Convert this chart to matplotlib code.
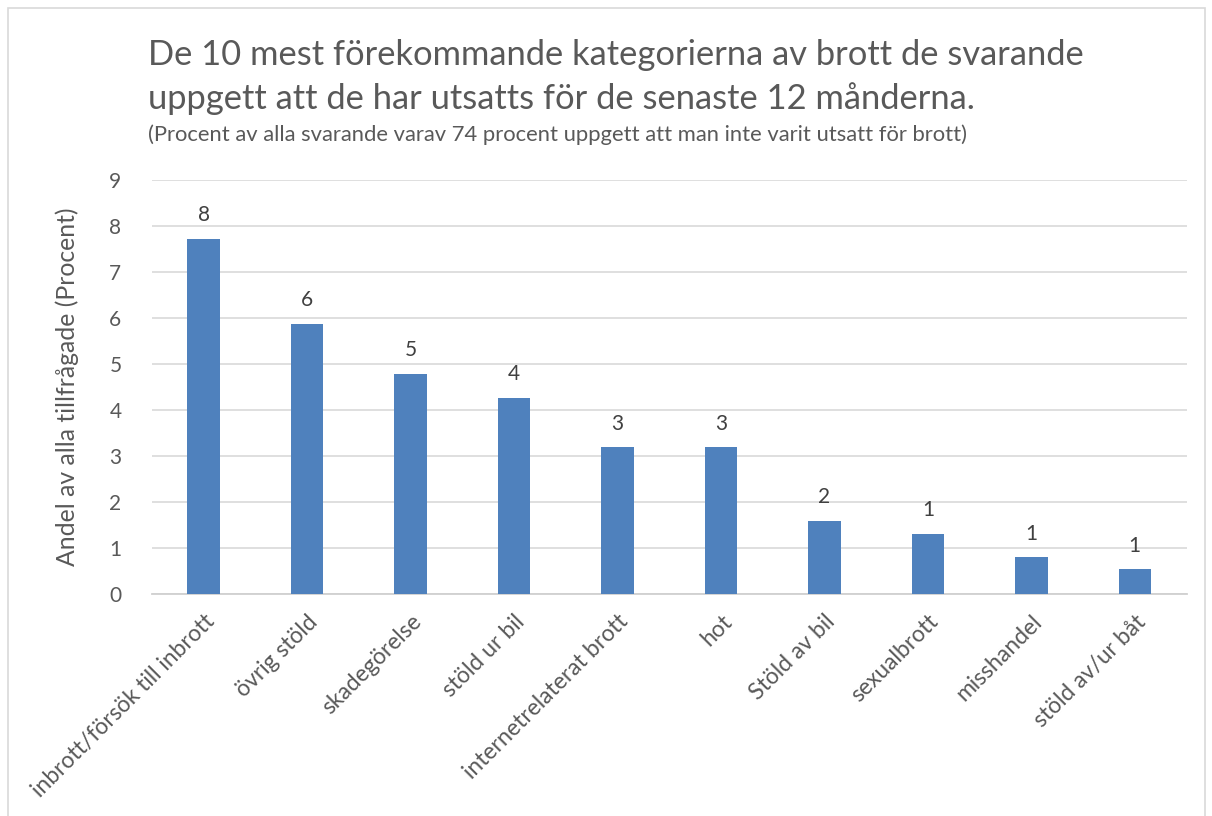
import matplotlib
matplotlib.use('Agg')
import matplotlib.pyplot as plt
from matplotlib.patches import Rectangle

plt.rcParams['font.family'] = ['Lato', 'DejaVu Sans']

categories = ['inbrott/försök till inbrott', 'övrig stöld', 'skadegörelse', 'stöld ur bil',
              'internetrelaterat brott', 'hot', 'Stöld av bil', 'sexualbrott', 'misshandel',
              'stöld av/ur båt']
values = [7.72, 5.87, 4.79, 4.26, 3.19, 3.19, 1.60, 1.32, 0.80, 0.54]
bar_labels = ['8', '6', '5', '4', '3', '3', '2', '1', '1', '1']
yticks = list(range(0, 10))

title = 'De 10 mest förekommande kategorierna av brott de svarande\nuppgett att de har utsatts för de senaste 12 månderna.'
subtitle = '(Procent av alla svarande varav 74 procent uppgett att man inte varit utsatt för brott)'
ylabel = 'Andel av alla tillfrågade (Procent)'

text_grey = '#595959'
bar_blue = '#4f81bd'

fig = plt.figure(figsize=(12.12, 8.16), dpi=100)
ax = fig.add_axes([0.1254, 0.2717, 0.8536, 0.5077])

x = list(range(len(categories)))
bars = ax.bar(x, values, width=0.315, color=bar_blue, zorder=3)

for rect, lab in zip(bars, bar_labels):
    ax.annotate(lab, (rect.get_x() + rect.get_width() / 2, rect.get_height()),
                xytext=(0, 10), textcoords='offset points', ha='center', va='bottom',
                fontsize=15, color='#404040')

ax.set_xlim(-0.5, len(categories) - 0.5)
ax.set_ylim(0, 9)
ax.set_yticks(yticks)
ax.set_yticklabels([str(t) for t in yticks], fontsize=15, color=text_grey)
ax.set_xticks(x)
ax.set_xticklabels(categories, rotation=45, ha='right', rotation_mode='anchor',
                   fontsize=16.5, color=text_grey)
ax.tick_params(axis='both', length=0)
ax.tick_params(axis='y', pad=22)
ax.tick_params(axis='x', pad=12)

ax.grid(axis='y', color='#d9d9d9', linewidth=1.2, zorder=0)
for s in ['top', 'right', 'left']:
    ax.spines[s].set_visible(False)
ax.spines['bottom'].set_color('#d0d0d0')
ax.spines['bottom'].set_linewidth(1.3)

ax.set_ylabel(ylabel, fontsize=17.8, color=text_grey, labelpad=22)

fig.text(148 / 1212, 1 - 39 / 816, title, fontsize=24.8, color=text_grey,
         ha='left', va='top', linespacing=1.42)
fig.text(148 / 1212, 1 - 124 / 816, subtitle, fontsize=15.8, color=text_grey,
         ha='left', va='top')

# chart border
fig.patches.append(Rectangle((8 / 1212, -0.01), 1197 / 1212, 1 - 8 / 816 + 0.01,
                             transform=fig.transFigure, fill=False,
                             edgecolor='#d9d9d9', linewidth=1.2))

fig.savefig('out.png', dpi=100, facecolor='white')
